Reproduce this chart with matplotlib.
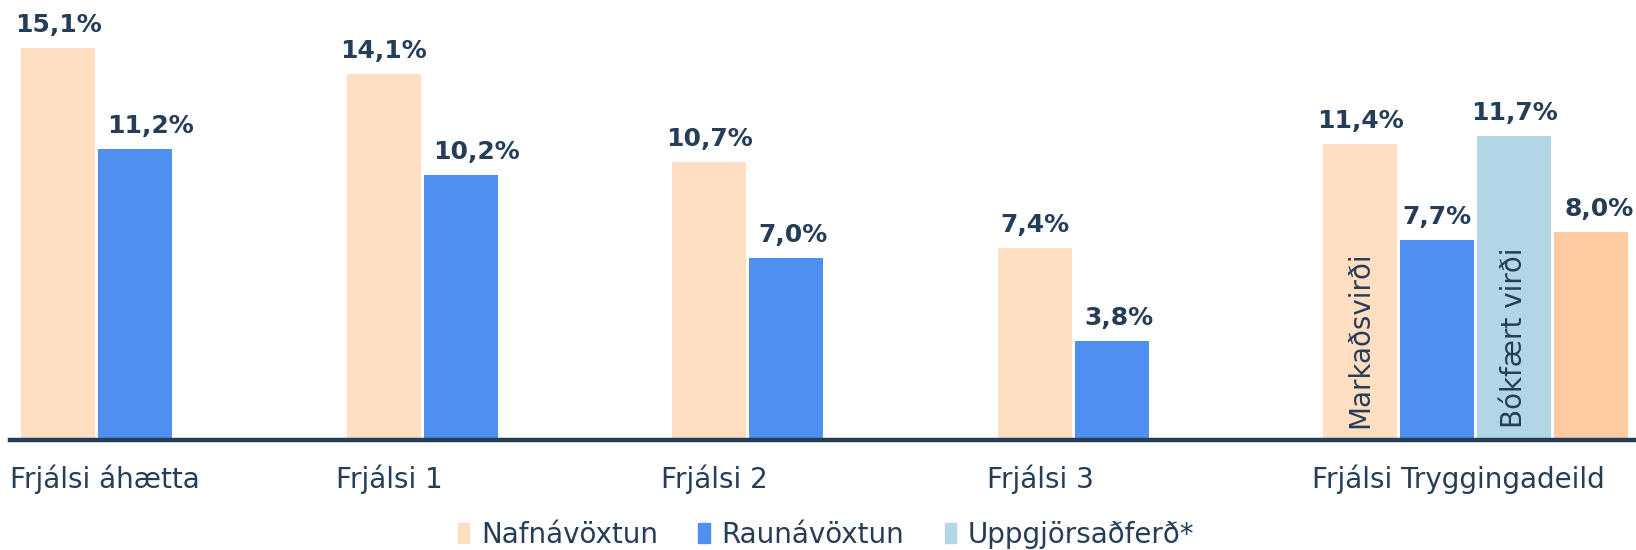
import matplotlib
matplotlib.use("Agg")
import matplotlib.pyplot as plt
from matplotlib.patches import Patch
from matplotlib.transforms import blended_transform_factory

# --- data ------------------------------------------------------------------ #
categories = ["Frjálsi áhætta", "Frjálsi 1", "Frjálsi 2", "Frjálsi 3",
              "Frjálsi Tryggingadeild"]
nafnavoxtun = [15.1, 14.1, 10.7, 7.4, 11.4]
raunavoxtun = [11.2, 10.2, 7.0, 3.8, 7.7]
# Tryggingadeild, bókfært virði (uppgjörsaðferð): nafn- og raunávöxtun
bokfaert = [11.7, 8.0]
series_names = ["Nafnávöxtun", "Raunávöxtun", "Uppgjörsaðferð*"]
inner_labels = ["Markaðsvirði", "Bókfært virði"]

# --- style ----------------------------------------------------------------- #
PEACH = "#FFDEC2"
BLUE = "#4F8FEF"
LIGHTBLUE = "#B3D6E7"
ORANGE = "#FFCA9F"
NAVY = "#263D57"

plt.rcParams["font.family"] = ["DejaVu Sans"]

W, H, DPI = 1636, 550, 100
BAR_W = 74          # px
BAR_STEP = 77       # px
GROUP_STEP = 325.6  # px
FIRST_LEFT = 21     # px
BASE_Y = 440        # px from top
PX_PER_PCT = 25.96

fig = plt.figure(figsize=(W / DPI, H / DPI), dpi=DPI)
ax = fig.add_axes([10 / W, (H - BASE_Y) / H, 1 - 10 / W, BASE_Y / H])
ax.set_xlim(10, W)
ax.set_ylim(0, BASE_Y / PX_PER_PCT)


def pct(v):
    return f"{v:.1f}".replace(".", ",") + "%"


def value_label(x, v, dx_px=0, ha="center"):
    ax.annotate(pct(v), (x, v), xytext=(dx_px * 0.72, 16 * 0.72),
                textcoords="offset points", ha=ha, va="baseline",
                fontsize=18, fontweight="bold", color=NAVY)


lefts = [FIRST_LEFT + i * GROUP_STEP for i in range(len(categories))]
x_nafn = [l + BAR_W / 2 for l in lefts]
x_raun = [x + BAR_STEP for x in x_nafn]
x_bok = [x_nafn[-1] + 2 * BAR_STEP, x_nafn[-1] + 3 * BAR_STEP]

ax.bar(x_nafn, nafnavoxtun, width=BAR_W, color=PEACH)
ax.bar(x_raun, raunavoxtun, width=BAR_W, color=BLUE)
ax.bar(x_bok, bokfaert, width=BAR_W, color=[LIGHTBLUE, ORANGE])

for x, v in zip(x_nafn, nafnavoxtun):
    value_label(x, v)
for i, (x, v) in enumerate(zip(x_raun, raunavoxtun)):
    if i < 4:
        value_label(x - BAR_W / 2, v, dx_px=9.5, ha="left")
    else:
        value_label(x, v)
value_label(x_bok[0], bokfaert[0])
value_label(x_bok[1], bokfaert[1], dx_px=8)

# vertical labels inside the Tryggingadeild bars
for x, txt in zip([x_nafn[-1], x_bok[0]], inner_labels):
    ax.annotate(txt, (x, 0), xytext=(0, 12 * 0.72), textcoords="offset points",
                rotation=90, ha="center", va="bottom", fontsize=20, color=NAVY)

# category labels, left aligned under each group
trans = blended_transform_factory(ax.transData, ax.transAxes)
for l, cat in zip(lefts, categories):
    ax.text(l - 11, -48 / BASE_Y, cat, transform=trans, ha="left",
            va="baseline", fontsize=20, color=NAVY)

for side in ["top", "left", "right"]:
    ax.spines[side].set_visible(False)
ax.spines["bottom"].set_color(NAVY)
ax.spines["bottom"].set_linewidth(3.2)
ax.set_xticks([])
ax.set_yticks([])

handles = [Patch(color=c) for c in (PEACH, BLUE, LIGHTBLUE)]
leg = fig.legend(handles, series_names, loc="center",
                 bbox_to_anchor=(0.505, 15 / H), ncol=3, frameon=False,
                 fontsize=20, handlelength=0.42, handleheight=0.72,
                 handletextpad=0.42, columnspacing=1.45)
for t in leg.get_texts():
    t.set_color(NAVY)

fig.savefig("out.png", dpi=DPI)
